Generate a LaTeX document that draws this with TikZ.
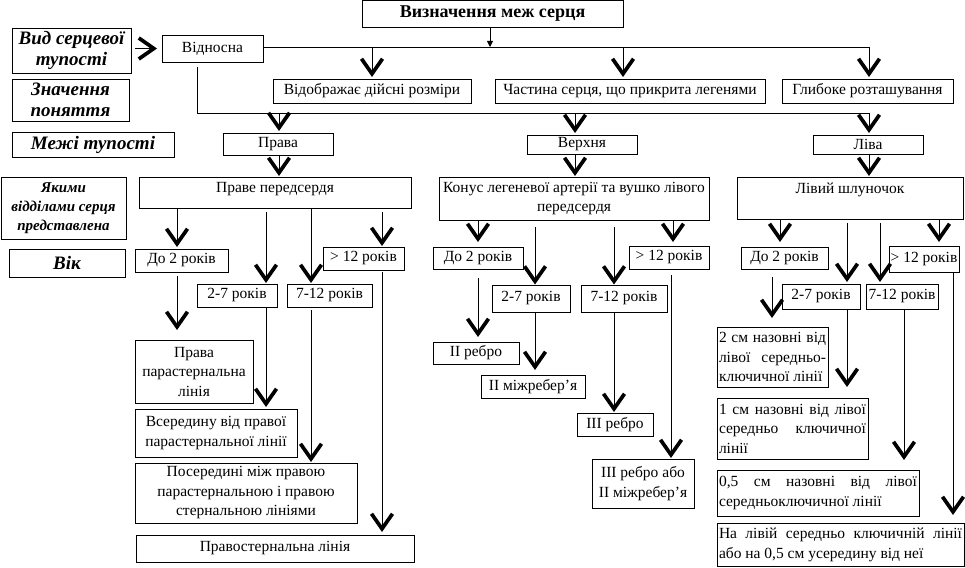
\documentclass[tikz,border=0pt]{standalone}
\usepackage{fontspec}
\setmainfont{Liberation Serif}
\usetikzlibrary{arrows.meta,calc}
\hyphenpenalty=10000
\exhyphenpenalty=10000
\newcommand\normtxt{\fontsize{15.5}{19.5}\selectfont}
\newcommand\labtxt{\fontsize{19}{21.5}\selectfont\bfseries\itshape}
\newcommand\smlab{\fontsize{15}{19}\selectfont\bfseries\itshape}
\tikzset{
  every node/.style={inner sep=1pt, outer sep=0pt},
  box/.style={draw, line width=0.9pt, font=\normtxt, align=center},
  lab/.style={font=\labtxt},
  txt/.style={font=\normtxt, inner sep=0pt},
  ln/.style={line width=0.9pt},
  vv/.style={line width=0.9pt, -{Straight Barb[length=15pt,width=21pt,line width=3.7pt]}},
}
\newcommand\bx[7][]{%
  \pgfmathsetmacro\bxw{#5-#3}\pgfmathsetmacro\bxh{#6-#4}%
  \node[box,anchor=north west,minimum width=\bxw pt,minimum height=\bxh pt,#1] (#2) at (#3,#4) {#7};}
\newcommand\jbx[6]{%
  \pgfmathsetmacro\bxw{#4-#2}\pgfmathsetmacro\bxh{#5-#3}\pgfmathsetmacro\bxt{#4-#2-4}%
  \node[box,align=justify,anchor=north west,minimum width=\bxw pt,minimum height=\bxh pt,text width=\bxt pt] (#1) at (#2,#3) {#6};}
\newcommand\ar[4][]{\draw[vv,#1] (#2,0 |- #3) -- (#2,0 |- #4);}
\begin{document}
\begin{tikzpicture}[x=1pt,y=-1pt]
\useasboundingbox (0,0) rectangle (965,567);
% left labels
\bx[lab]{vsrc}{12}{28}{131}{73}{Вид серцевої\\тупості}
\bx[lab]{zn}{12}{79}{129}{121}{Значення\\поняття}
\bx[lab]{mt}{12}{132}{174}{157}{Межі тупості}
\bx[font=\smlab]{yak}{1}{177}{126}{239}{Якими\\відділами серця\\представлена}
\bx[lab]{vik}{9}{249}{125}{277}{Вік}
% top
\bx[font=\fontsize{18}{20}\selectfont\bfseries]{title}{362}{0.5}{623}{27}{Визначення меж серця}
\bx{vid}{162}{35}{263}{62}{Відносна}
\bx{vdr}{273}{79}{471}{103}{Відображає дійсні розміри}
\bx{chast}{495}{79}{765}{103}{Частина серця, що прикрита легенями}
\bx{glib}{782}{79}{953}{103}{Глибоке розташування}
\bx{prava}{223}{133}{333}{155}{Права}
\bx{verh}{527}{135}{637}{154}{Верхня}
\bx{liva}{813}{135}{923}{154}{Ліва}
% level 2
\bx{pp}{139}{177}{411}{208}{}
\node[txt] (ppt) at (pp.center |- 0,189) {Праве передсердя};
\bx{konus}{439}{177}{709}{220}{Конус легеневої артерії та вушко лівого\\передсердя}
\bx{lsh}{737}{177}{963}{219}{}
\node[txt] (lsht) at (lsh.center |- 0,190) {Лівий шлуночок};
% ages left
\bx{ad2}{135}{249}{228}{272}{До 2 років}
\bx{a27}{197}{284}{277}{307}{2-7 років}
\bx{a712}{287}{284}{372}{307}{7-12 років}
\bx{agt}{323}{247}{404}{270}{> 12 років}
\bx{ppl}{135}{340}{253}{403}{Права\\парастернальна\\лінія}
\bx{vser}{135}{409}{297}{457}{Всередину від правої\\парастернальної лінії}
\bx{poser}{135}{463}{357}{523}{Посередині між правою\\парастернальною і правою\\стернальною лініями}
\bx{pst}{136}{535}{414}{562}{Правостернальна лінія}
% ages middle
\bx{bd2}{433}{247}{523}{269}{До 2 років}
\bx{b27}{492}{285}{570}{312}{2-7 років}
\bx{b712}{581}{285}{667}{312}{7-12 років}
\bx{bgt}{629}{246}{709}{269}{> 12 років}
\bx{r2}{433}{342}{519}{364}{II ребро}
\bx{mr2}{481}{375}{585}{398}{II міжребер’я}
\bx{r3}{577}{413}{653}{436}{III ребро}
\bx{r3m}{592}{459}{694}{508}{III ребро або\\II міжребер’я}
% ages right
\bx{cd2}{741}{247}{828}{269}{До 2 років}
\bx{c27}{782}{284}{860}{309}{2-7 років}
\bx{c712}{866}{284}{938}{309}{7-12 років}
\bx{cgt}{889}{246}{959}{272}{> 12 років}
\jbx{c2}{717}{327}{828}{387}{2 см назовні від\linebreak лівої середньо-\linebreak ключичної лінії}
\jbx{c1}{717}{398}{868}{459}{1 см назовні від лівої\linebreak середньо ключичної\linebreak лінії}
\jbx{c05}{717}{470}{919}{516}{0,5 см назовні від лівої\linebreak середньоключичної лінії}
\jbx{cna}{717}{523}{964}{566.5}{На лівій середньо ключичній лінії\linebreak або на 0,5 см усередину від неї}
% connectors top
\coordinate (j0) at (490,47);
\coordinate (j3) at (869,47);
\coordinate (k0) at (197,113);
\coordinate (k3) at (869,113);
\draw[ln,-{Triangle[length=6pt,width=6pt]}] (title.south -| j0) -- (j0);
\draw[vv,shorten <=4pt,shorten >=5pt] (vsrc.east |- vid.west) -- (vid.west);
\draw[ln] (vid.east |- j0) -- (j3);
\ar[shorten >=2pt]{372}{j0}{vdr.north}
\ar[shorten >=2pt]{623}{j0}{chast.north}
\ar[shorten >=2pt]{869}{j3}{glib.north}
\draw[ln,shorten <=5pt] (vid.south -| k0) -- (k0) -- (k3);
\ar[shorten >=2pt]{279}{k0}{prava.north}
\ar[shorten >=2pt]{575}{k0}{verh.north}
\ar[shorten >=2pt]{869}{k3}{liva.north}
\ar[shorten >=1pt]{279}{prava.south}{pp.north}
\ar[shorten >=1pt]{575}{verh.south}{konus.north}
\ar[shorten >=1pt]{869}{liva.south}{lsh.north}
% left column
\ar[shorten >=2pt]{177}{pp.south}{ad2.north}
\ar[shorten <=4pt,shorten >=1pt]{266}{pp.south}{a27.north}
\ar[shorten >=1pt]{311}{pp.south}{a712.north}
\ar[shorten <=4pt,shorten >=1pt]{382}{pp.south}{agt.north}
\ar[shorten <=4pt,shorten >=10pt]{177}{ad2.south}{ppl.north}
\ar[shorten >=2pt]{266}{a27.south}{vser.north}
\ar[shorten <=3pt,shorten >=1pt]{311}{a712.south}{poser.north}
\ar[shorten <=2pt,shorten >=3pt]{382}{agt.south}{pst.north}
% middle column
\ar[shorten >=5pt]{478}{konus.south}{bd2.north}
\ar[shorten <=7pt,shorten >=0.5pt]{535}{konus.south}{b27.north}
\ar[shorten <=7pt,shorten >=0.5pt]{614}{konus.south}{b712.north}
\ar[shorten >=4pt]{673}{konus.south}{bgt.north}
\ar[shorten <=9pt,shorten >=5pt]{478}{bd2.south}{r2.north}
\ar[shorten >=5pt]{535}{b27.south}{mr2.north}
\ar[shorten >=1pt]{614}{b712.south}{r3.north}
\ar[shorten <=6pt,shorten >=1pt]{671}{bgt.south}{r3m.north}
% right column
\ar[shorten >=5pt]{780}{lsh.south}{cd2.north}
\ar[shorten <=4pt,shorten >=2pt]{847}{lsh.south}{c27.north}
\ar[shorten <=4pt,shorten >=2pt]{880}{lsh.south}{c712.north}
\ar[shorten >=4pt]{939}{lsh.south}{cgt.north}
\ar[shorten <=8pt,shorten >=9pt]{772}{cd2.south}{c2.north}
\ar[shorten >=11pt]{847}{c27.south}{c1.north}
\ar[shorten >=10pt]{904}{c712.south}{c05.north}
\ar[shorten >=8pt]{953}{cgt.south}{cna.north}
\end{tikzpicture}
\end{document}
